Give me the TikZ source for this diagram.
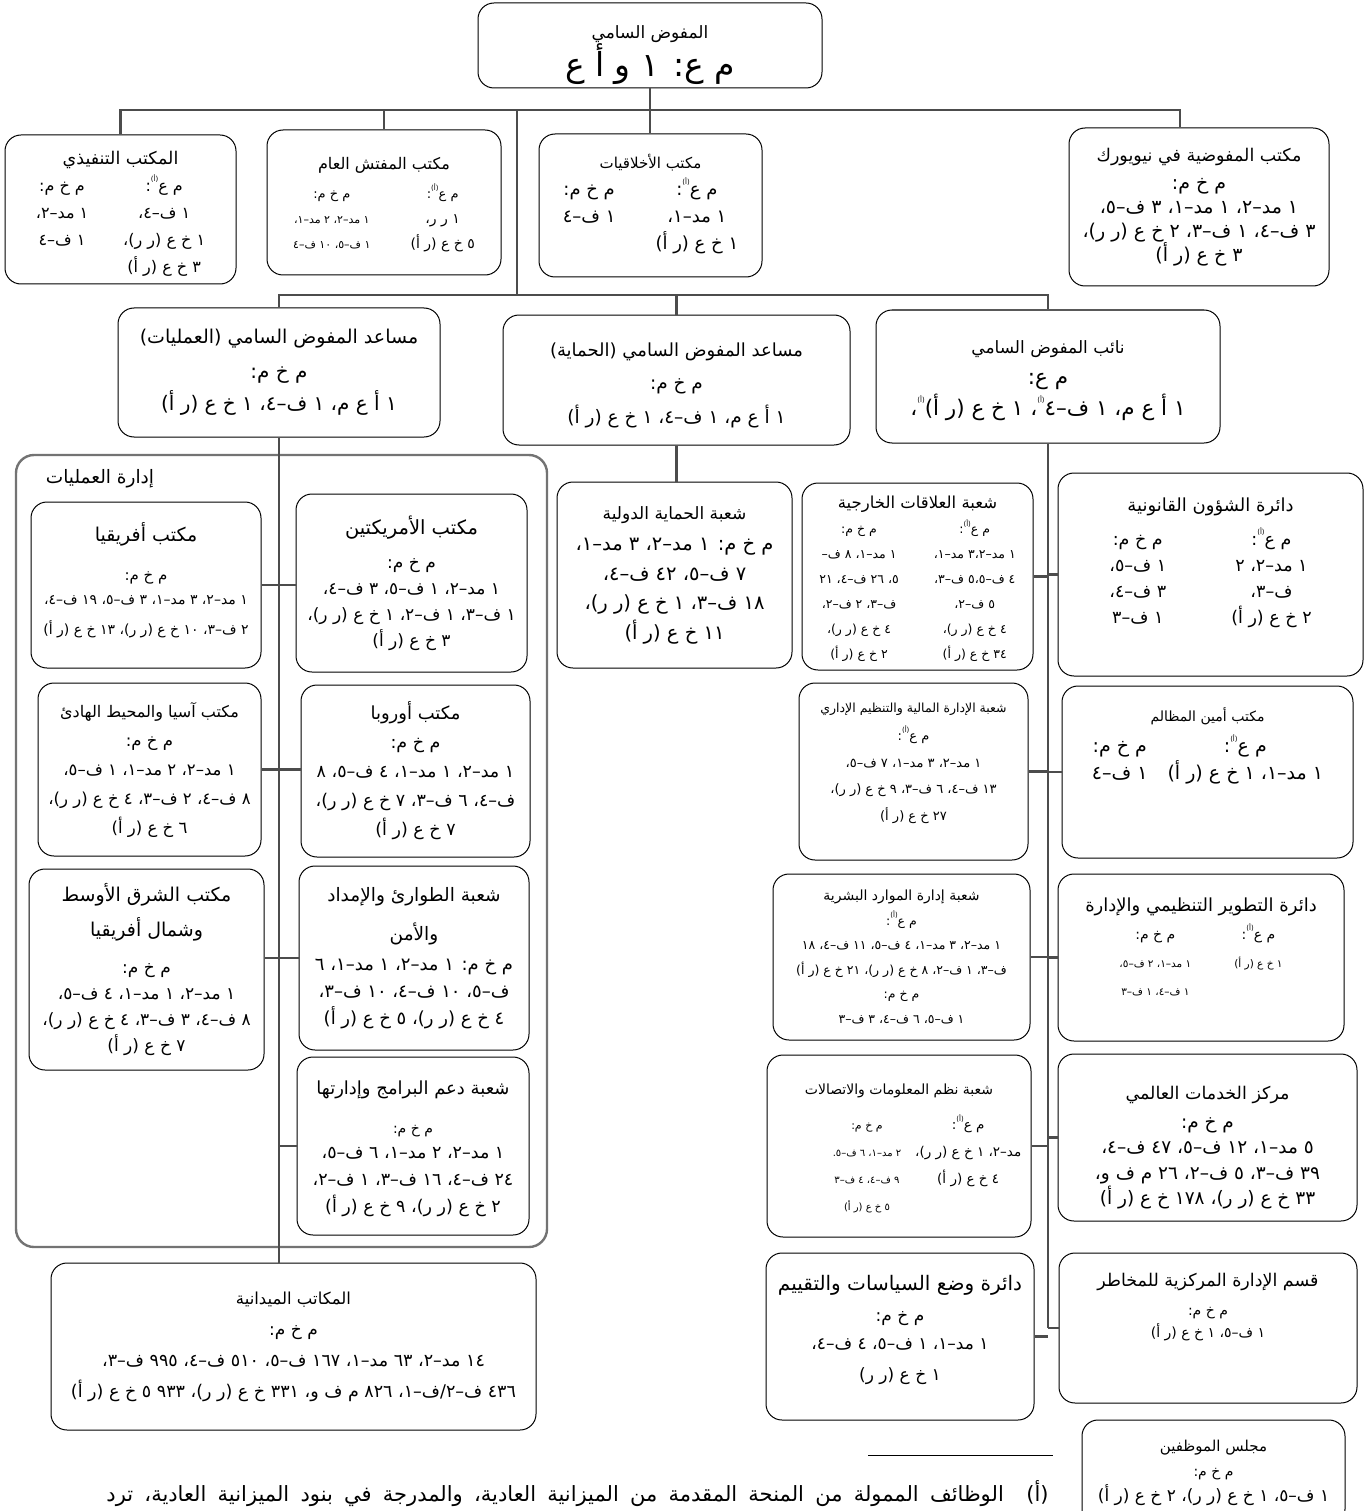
\documentclass[tikz,border=0pt]{standalone}
\usepackage{fontspec}
\usetikzlibrary{calc}
\newfontfamily\arabicfont[Script=Arabic]{DejaVu Sans}
\TeXXeTstate=1
\newcommand{\ar}[1]{\beginR #1\endR}
\newcommand{\sa}{\raisebox{0.6em}{\fontsize{7}{7}\selectfont(أ)}}
\newcommand{\fs}[2]{\fontsize{#1}{#2}\selectfont}
\newcommand{\twocol}[2][30pt]{\begin{tabular}[t]{@{}c@{\hspace{#1}}c@{}}#2\end{tabular}}
\newcommand{\padtop}[1]{\rule{0pt}{#1}}
\newcommand{\padbot}[1]{\rule[-#1]{0pt}{0pt}}

\begin{document}
\begin{tikzpicture}[x=1pt, y=-1pt,
  unit/.style={draw, rounded corners=16pt, line width=1pt, align=center, inner sep=2pt},
  sz/.style 2 args={font=\arabicfont\fs{#1}{#2}},
  link/.style={draw=black!70, line width=2.2pt},
  division/.style={draw=black!55, rounded corners=18pt, line width=2.4pt}]
\useasboundingbox (0,0) rectangle (1364,1511);

\node[unit, sz={17}{35}, minimum width=344pt, minimum height=85pt] (top) at (650,45.5) {\padtop{32pt}\ar{المفوض السامي}\\{\fs{33}{35}\ar{م ع: ١ و أ ع}}};

\node[unit, sz={16}{27}, minimum width=231pt, minimum height=149pt] (exec) at (120.5,209.5) {{\fs{17.5}{27}\padtop{26pt}\ar{المكتب التنفيذي}}\\
  \twocol[35pt]{\ar{م خ م:} & \ar{م ع\sa:}\\ \ar{١ مد–٢،} & \ar{١ ف–٤،}\\ \ar{١ ف–٤} & \ar{١ خ ع (ر ر)،}\\ & \ar{٣ خ ع (ر أ)}}};
\node[unit, sz={11}{25}, minimum width=234pt, minimum height=145pt] (ig) at (384,202.5) {{\fs{16}{25}\padtop{20pt}\ar{مكتب المفتش العام}}\\[4pt]
  \twocol[40pt]{{\fs{13}{25}\ar{م خ م:}} & {\fs{13}{25}\ar{م ع\sa:}}\\ \ar{١ مد–٢، ٢ مد–١،} & {\fs{14}{25}\ar{١ ر ر،}}\\ \ar{١ ف–٥، ١٠ ف–٤} & {\fs{14}{25}\ar{٥ خ ع (ر أ)}}}};
\node[unit, sz={18}{27}, minimum width=223pt, minimum height=143pt] (ethics) at (650.5,205.5) {{\fs{15}{27}\ar{مكتب الأخلاقيات}}\\
  \twocol[40pt]{\ar{م خ م:} & \ar{م ع\sa:}\\ \ar{١ ف–٤} & \ar{١ مد–١،}\\ & \ar{١ خ ع (ر أ)}}};
\node[unit, sz={19}{24}, minimum width=260pt, minimum height=158pt] (nyc) at (1199,207) {{\fs{17.5}{24}\ar{مكتب المفوضية في نيويورك}}\\[4pt]
  \ar{م خ م:}\\ \ar{١ مد–٢، ١ مد–١، ٣ ف–٥،}\\ \ar{٣ ف–٤، ١ ف–٣، ٢ خ ع (ر ر)،}\\ \ar{٣ خ ع (ر أ)}};

\node[unit, sz={20}{32}, minimum width=322pt, minimum height=129pt] (opsasg) at (279,372.5) {{\fs{19}{32}\ar{مساعد المفوض السامي (العمليات)}}\\[3pt] \ar{م خ م:}\\ \ar{١ أ ع م، ١ ف–٤، ١ خ ع (ر أ)}};
\node[unit, sz={18.5}{33.5}, minimum width=347pt, minimum height=130pt] (protasg) at (676.5,380) {{\fs{18}{33}\padtop{24pt}\ar{مساعد المفوض السامي (الحماية)}}\\ \ar{م خ م:}\\ \ar{١ أ ع م، ١ ف–٤، ١ خ ع (ر أ)}};
\node[unit, sz={21.5}{31}, minimum width=344pt, minimum height=133pt] (deputy) at (1048,376.5) {{\fs{17}{31}\padtop{21pt}\ar{نائب المفوض السامي}}\\ \ar{م ع:}\\ \ar{١ أ ع م، ١ ف–٤\sa، ١ خ ع (ر أ)\sa،}};

\node[division, minimum width=531pt, minimum height=792pt] (opsdiv) at (281.5,851) {};
\node[font=\arabicfont\fs{18.5}{22}] (opslabel) at (100,479) {\ar{إدارة العمليات}};

\node[unit, sz={14}{27}, minimum width=230pt, minimum height=166pt] (africa) at (146,585) {{\fs{19}{27}\ar{مكتب أفريقيا}}\\[12pt] {\fs{15}{27}\ar{م خ م:}}\\[-3pt] \ar{١ مد–٢، ٣ مد–١، ٣ ف–٥، ١٩ ف–٤،}\\[3pt] \ar{٢ ف–٣، ١٠ خ ع (ر ر)، ١٣ خ ع (ر أ)}\padbot{12pt}};
\node[unit, sz={17}{26}, minimum width=231pt, minimum height=178pt] (americas) at (411.5,583) {{\fs{19.5}{26}\ar{مكتب الأمريكتين}}\\[8pt] \ar{م خ م:}\\ \ar{١ مد–٢، ١ ف–٥، ٣ ف–٤،}\\ \ar{١ ف–٣، ١ ف–٢، ١ خ ع (ر ر)،}\\ \ar{٣ خ ع (ر أ)}};
\node[unit, sz={16.5}{29}, minimum width=223pt, minimum height=173pt] (asia) at (149.5,769.5) {{\fs{16}{29}\ar{مكتب آسيا والمحيط الهادئ}}\\ \ar{م خ م:}\\ \ar{١ مد–٢، ٢ مد–١، ١ ف–٥،}\\ \ar{٨ ف–٤، ٢ ف–٣، ٤ خ ع (ر ر)،}\\ \ar{٦ خ ع (ر أ)}};
\node[unit, sz={17.5}{29}, minimum width=229pt, minimum height=172pt] (europe) at (415.5,771) {{\fs{18}{29}\ar{مكتب أوروبا}}\\ \ar{م خ م:}\\ \ar{١ مد–٢، ١ مد–١، ٤ ف–٥، ٨}\\ \ar{ف–٤، ٦ ف–٣، ٧ خ ع (ر ر)،}\\ \ar{٧ خ ع (ر أ)}};
\node[unit, sz={17}{26}, minimum width=235pt, minimum height=201pt] (mena) at (146.5,969.5) {{\fs{19}{26}\ar{مكتب الشرق الأوسط}}\\[9pt] {\fs{19}{26}\ar{وشمال أفريقيا}}\\[11pt] \ar{م خ م:}\\ \ar{١ مد–٢، ١ مد–١، ٤ ف–٥،}\\ \ar{٨ ف–٤، ٣ ف–٣، ٤ خ ع (ر ر)،}\\ \ar{٧ خ ع (ر أ)}};
\node[unit, sz={18}{27}, minimum width=230pt, minimum height=184pt] (emergency) at (414,958) {{\fs{18.5}{27}\ar{شعبة الطوارئ والإمداد}}\\[12pt] {\fs{18.5}{27}\ar{والأمن}}\\[3pt] \ar{م خ م: ١ مد–٢، ١ مد–١، ٦}\\ \ar{ف–٥، ١٠ ف–٤، ١٠ ف–٣،}\\ \ar{٤ خ ع (ر ر)، ٥ خ ع (ر أ)}};
\node[unit, sz={17.5}{27}, minimum width=232pt, minimum height=178pt] (programme) at (413,1146) {{\fs{18}{27}\padtop{20pt}\ar{شعبة دعم البرامج وإدارتها}}\\[12pt] {\fs{14}{27}\ar{م خ م:}}\\[-2pt] \ar{١ مد–٢، ٢ مد–١، ٦ ف–٥،}\\ \ar{٢٤ ف–٤، ١٦ ف–٣، ١ ف–٢،}\\ \ar{٢ خ ع (ر ر)، ٩ خ ع (ر أ)}};
\node[unit, sz={17.5}{31}, minimum width=485pt, minimum height=167pt] (field) at (293.5,1346.5) {{\fs{16.5}{31}\ar{المكاتب الميدانية}}\\ {\fs{17}{31}\ar{م خ م:}}\\ \ar{١٤ مد–٢، ٦٣ مد–١، ١٦٧ ف–٥، ٥١٠ ف–٤، ٩٩٥ ف–٣،}\\ \ar{٤٣٦ ف–٢/ف–١، ٨٢٦ م ف و، ٣٣١ خ ع (ر ر)، ٩٣٣ ٥ خ ع (ر أ)}};

\node[unit, sz={19.5}{29.5}, minimum width=235pt, minimum height=186pt] (intlprot) at (674.5,575) {{\fs{17}{29.5}\ar{شعبة الحماية الدولية}}\\[2pt] \ar{م خ م: ١ مد–٢، ٣ مد–١،}\\ \ar{٧ ف–٥، ٤٢ ف–٤،}\\ \ar{١٨ ف–٣، ١ خ ع (ر ر)،}\\ \ar{١١ خ ع (ر أ)}};

\node[unit, sz={12.5}{25}, minimum width=231pt, minimum height=187pt] (extrel) at (917.5,576.5) {{\fs{16.5}{25}\padtop{22pt}\ar{شعبة العلاقات الخارجية}}\\
  \twocol[35pt]{\ar{م خ م:} & \ar{م ع\sa:}\\ \ar{١ مد–١، ٨ ف–} & \ar{١ مد–٣،٢ مد–١،}\\ \ar{٥، ٢٦ ف–٤، ٢١} & \ar{٤ ف–٥،٥ ف–٣،}\\ \ar{ف–٣، ٢ ف–٢،} & \ar{٥ ف–٢،}\\ \ar{٤ خ ع (ر ر)،} & \ar{٤ خ ع (ر ر)،}\\ \ar{٢ خ ع (ر أ)} & \ar{٣٤ خ ع (ر أ)}}};
\node[unit, sz={13}{26.5}, minimum width=229pt, minimum height=177pt] (finance) at (913.5,771.5) {{\fs{12.5}{26.5}\ar{شعبة الإدارة المالية والتنظيم الإداري}}\\[2pt] \ar{م ع\sa:}\\ \ar{١ مد–٢، ٣ مد–١، ٧ ف–٥،}\\ \ar{١٣ ف–٤، ٦ ف–٣، ٩ خ ع (ر ر)،}\\ \ar{٢٧ خ ع (ر أ)}\padbot{20pt}};
\node[unit, sz={12.5}{24.5}, minimum width=257pt, minimum height=166pt] (hr) at (901.5,957) {{\fs{14}{24.5}\ar{شعبة إدارة الموارد البشرية}}\\ \ar{م ع\sa:}\\ \ar{١ مد–٢، ٣ مد–١، ٤ ف–٥، ١١ ف–٤، ١٨}\\ \ar{ف–٣، ١ ف–٢، ٨ خ ع (ر ر)، ٢١ خ ع (ر أ)}\\ \ar{م خ م:}\\ \ar{١ ف–٥، ٦ ف–٤، ٣ ف–٣}};
\node[unit, sz={13.5}{27}, minimum width=264pt, minimum height=182pt] (ict) at (899,1146) {{\fs{14}{27}\padtop{22pt}\ar{شعبة نظم المعلومات والاتصالات}}\\[8pt]
  \hspace*{56pt}\twocol[14pt]{{\fs{11}{27}\ar{م خ م:}} & \ar{م ع\sa:}\\ {\fs{10}{27}\ar{٢ مد–١، ٦ ف–٥.}} & \ar{مد–٢، ١ خ ع (ر ر)،}\\ {\fs{10}{27}\ar{٩ ف–٤، ٤ ف–٣}} & \ar{٤ خ ع (ر أ)}\\ {\fs{10}{27}\ar{٥ خ ع (ر أ)}} & }};
\node[unit, sz={17}{28.5}, minimum width=268pt, minimum height=167pt] (policy) at (900,1336.5) {{\fs{20}{28.5}\ar{دائرة وضع السياسات والتقييم}}\\[2pt] \ar{م خ م:}\\ \ar{١ مد–١، ١ ف–٥، ٤ ف–٤،}\\[2pt] \ar{١ خ ع (ر ر)}\padbot{17pt}};

\node[unit, sz={17.5}{26}, minimum width=305pt, minimum height=203pt] (legal) at (1210.5,574.5) {{\fs{18}{26}\ar{دائرة الشؤون القانونية}}\\[8pt]
  \twocol[65pt]{\ar{م خ م:} & \ar{م ع\sa:}\\ \ar{١ ف–٥،} & \ar{١ مد–٢، ٢}\\ \ar{٣ ف–٤،} & \ar{ف–٣،}\\ \ar{١ ف–٣} & \ar{٢ خ ع (ر أ)}\padbot{28pt}}};
\node[unit, sz={19}{27}, minimum width=291pt, minimum height=172pt] (ombud) at (1207.5,772) {{\fs{14}{27}\ar{مكتب أمين المظالم}}\\[4pt]
  \twocol[20pt]{\ar{م خ م:} & \ar{م ع\sa:}\\ \ar{١ ف–٤} & \ar{١ مد–١، ١ خ ع (ر أ)}}\\ \rule{0pt}{48pt}};
\node[unit, sz={10.5}{28}, minimum width=286pt, minimum height=167pt] (orgdev) at (1201,957.5) {{\fs{18}{28}\ar{دائرة التطوير التنظيمي والإدارة}}\\
  \twocol[43pt]{{\fs{14}{28}\ar{م خ م:}} & {\fs{14}{28}\ar{م ع\sa:}}\\ \ar{١ مد–١، ٢ ف–٥،} & \ar{١ خ ع (ر أ)}\\ \ar{١ ف–٤، ١ ف–٣}\padbot{22pt} & }};
\node[unit, sz={18.5}{25.5}, minimum width=299pt, minimum height=167pt] (gsc) at (1207.5,1137.5) {{\fs{17.5}{25.5}\padtop{34pt}\ar{مركز الخدمات العالمي}}\\[3pt] \ar{م خ م:}\\ \ar{٥ مد–١، ١٢ ف–٥، ٤٧ ف–٤،}\\ \ar{٣٩ ف–٣، ٥ ف–٢، ٢٦ م ف و،}\\ \ar{٣٣ خ ع (ر ر)، ١٧٨ خ ع (ر أ)}};
\node[unit, sz={14}{22}, minimum width=298pt, minimum height=150pt] (risk) at (1208,1328) {{\fs{17.5}{22}\ar{قسم الإدارة المركزية للمخاطر}}\\[7pt] \ar{م خ م:}\\ \ar{١ ف–٥، ١ خ ع (ر أ)}\padbot{45pt}};
\node[unit, sz={17}{25}, minimum width=263pt, minimum height=105pt] (council) at (1213.5,1472.5) {{\fs{15}{25}\ar{مجلس الموظفين}}\\ {\fs{14}{25}\ar{م خ م:}}\\ \ar{١ ف–٥، ١ خ ع (ر ر)، ٢ خ ع (ر أ)}};

\draw[line width=1pt] (868,1455) -- (1053,1455);
\node[anchor=east, font=\arabicfont\fs{21}{24}] (note) at (1052,1494) {\hbox to 942pt{\beginR(أ)\ \ الوظائف الممولة من المنحة المقدمة من الميزانية العادية، والمدرجة في بنود الميزانية العادية، ترد\endR}};

\coordinate (bus1) at (517,110);
\coordinate (bus2) at (517,295);
\draw[link] (exec.north) |- (bus1) -| ([xshift=-19pt]nyc.north);
\draw[link] (ig.north) -- (ig.north |- bus1);
\draw[link] (top.south) -- (top.south |- ethics.north);
\draw[link] (bus1) -- (bus2);
\draw[link] (opsasg.north) |- (bus2) -| (deputy.north);
\draw[link] (protasg.north) -- (protasg.north |- bus2);
\draw[link] (protasg.south) -- (protasg.south |- intlprot.north);
\draw[link] (opsasg.south) -- (opsasg.south |- field.north);
\draw[link] (africa.east) -- (africa.east -| americas.west);
\draw[link] (asia.east) -- (asia.east -| europe.west);
\draw[link] (emergency.west) -- (emergency.west -| mena.east);
\draw[link] (programme.west) -- (programme.west -| opsasg.south);
\draw[link] (deputy.south) -- (deputy.south |- risk.west);
\foreach \n in {legal,ombud,orgdev,gsc,risk}
  \draw[link] (\n.west) -- (\n.west -| deputy.south);
\foreach \n in {extrel,finance,hr,ict,policy}
  \draw[link] (\n.east) -- (\n.east -| deputy.south);
\end{tikzpicture}
\end{document}
